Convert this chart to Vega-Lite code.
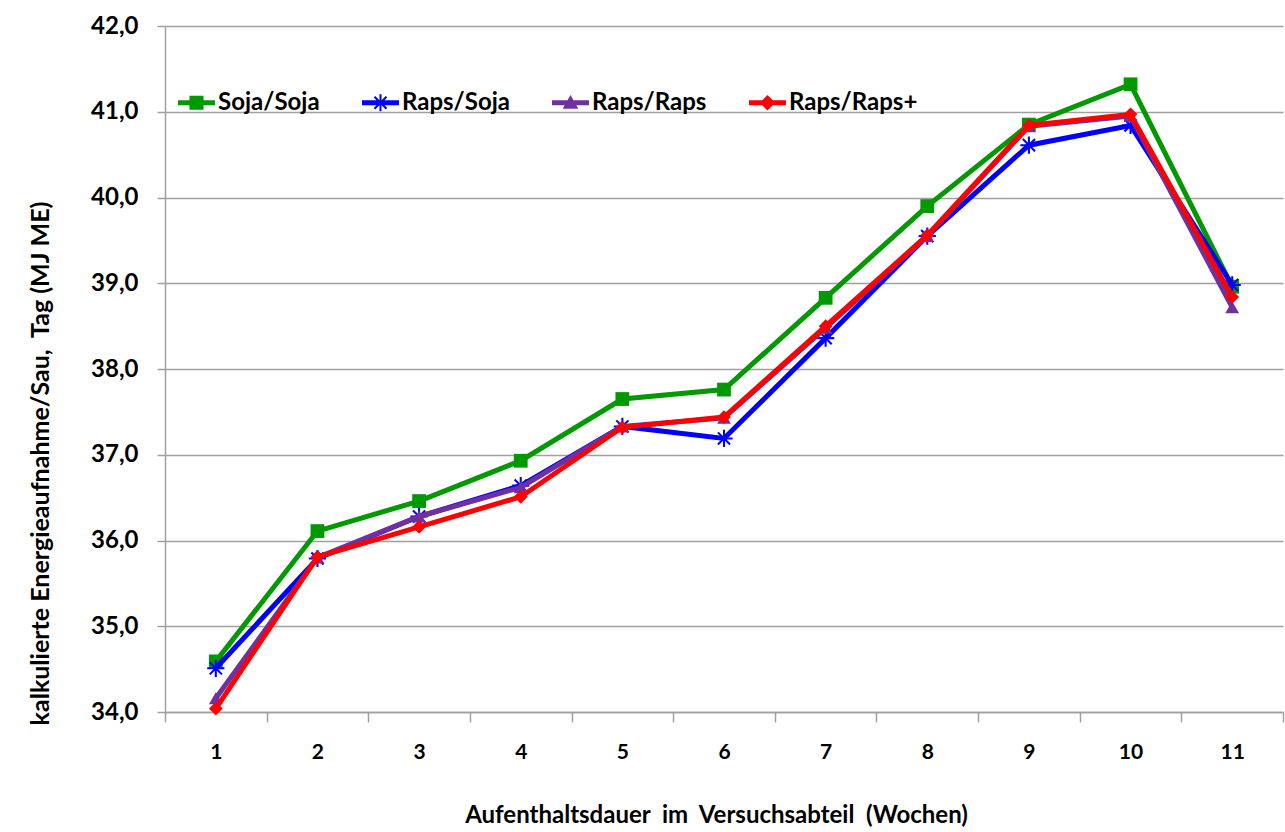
{
  "$schema": "https://vega.github.io/schema/vega-lite/v6.json",
  "width": 1118,
  "height": 686,
  "autosize": {"type": "none"},
  "padding": {"left": 165, "top": 26, "right": 2, "bottom": 120},
  "background": "white",
  "config": {
    "view": {"stroke": null},
    "font": "Lato"
  },
  "data": {
    "values": [
      {"woche": "1", "serie": "Soja/Soja", "wert": 34.59},
      {"woche": "2", "serie": "Soja/Soja", "wert": 36.11},
      {"woche": "3", "serie": "Soja/Soja", "wert": 36.46},
      {"woche": "4", "serie": "Soja/Soja", "wert": 36.93},
      {"woche": "5", "serie": "Soja/Soja", "wert": 37.65},
      {"woche": "6", "serie": "Soja/Soja", "wert": 37.76},
      {"woche": "7", "serie": "Soja/Soja", "wert": 38.83},
      {"woche": "8", "serie": "Soja/Soja", "wert": 39.90},
      {"woche": "9", "serie": "Soja/Soja", "wert": 40.85},
      {"woche": "10", "serie": "Soja/Soja", "wert": 41.32},
      {"woche": "11", "serie": "Soja/Soja", "wert": 38.96},
      {"woche": "1", "serie": "Raps/Soja", "wert": 34.51},
      {"woche": "2", "serie": "Raps/Soja", "wert": 35.79},
      {"woche": "3", "serie": "Raps/Soja", "wert": 36.28},
      {"woche": "4", "serie": "Raps/Soja", "wert": 36.64},
      {"woche": "5", "serie": "Raps/Soja", "wert": 37.33},
      {"woche": "6", "serie": "Raps/Soja", "wert": 37.19},
      {"woche": "7", "serie": "Raps/Soja", "wert": 38.36},
      {"woche": "8", "serie": "Raps/Soja", "wert": 39.55},
      {"woche": "9", "serie": "Raps/Soja", "wert": 40.61},
      {"woche": "10", "serie": "Raps/Soja", "wert": 40.84},
      {"woche": "11", "serie": "Raps/Soja", "wert": 38.98},
      {"woche": "1", "serie": "Raps/Raps", "wert": 34.16},
      {"woche": "2", "serie": "Raps/Raps", "wert": 35.80},
      {"woche": "3", "serie": "Raps/Raps", "wert": 36.28},
      {"woche": "4", "serie": "Raps/Raps", "wert": 36.62},
      {"woche": "5", "serie": "Raps/Raps", "wert": 37.33},
      {"woche": "6", "serie": "Raps/Raps", "wert": 37.43},
      {"woche": "7", "serie": "Raps/Raps", "wert": 38.48},
      {"woche": "8", "serie": "Raps/Raps", "wert": 39.55},
      {"woche": "9", "serie": "Raps/Raps", "wert": 40.83},
      {"woche": "10", "serie": "Raps/Raps", "wert": 40.95},
      {"woche": "11", "serie": "Raps/Raps", "wert": 38.72},
      {"woche": "1", "serie": "Raps/Raps+", "wert": 34.04},
      {"woche": "2", "serie": "Raps/Raps+", "wert": 35.81},
      {"woche": "3", "serie": "Raps/Raps+", "wert": 36.16},
      {"woche": "4", "serie": "Raps/Raps+", "wert": 36.51},
      {"woche": "5", "serie": "Raps/Raps+", "wert": 37.32},
      {"woche": "6", "serie": "Raps/Raps+", "wert": 37.44},
      {"woche": "7", "serie": "Raps/Raps+", "wert": 38.50},
      {"woche": "8", "serie": "Raps/Raps+", "wert": 39.56},
      {"woche": "9", "serie": "Raps/Raps+", "wert": 40.84},
      {"woche": "10", "serie": "Raps/Raps+", "wert": 40.97},
      {"woche": "11", "serie": "Raps/Raps+", "wert": 38.84}
    ]
  },
  "encoding": {
    "x": {
      "field": "woche",
      "type": "ordinal",
      "sort": ["1","2","3","4","5","6","7","8","9","10","11"],
      "scale": {"type": "band", "paddingInner": 0, "paddingOuter": 0},
      "axis": {
        "title": "Aufenthaltsdauer\u00a0 im\u00a0 Versuchsabteil\u00a0 (Wochen)",
        "titleFont": "Lato",
        "titleFontSize": 24,
        "titleFontWeight": "bold",
        "titleColor": "black",
        "titleX": 551,
        "titleY": 110,
        "titleBaseline": "alphabetic",
        "labelFont": "Lato",
        "labelFontSize": 21,
        "labelFontWeight": "bold",
        "labelColor": "black",
        "labelAngle": 0,
        "labelBaseline": "alphabetic",
        "labelPadding": 36,
        "tickBand": "extent",
        "tickSize": 10,
        "tickColor": "#a0a0a0",
        "tickWidth": 1.5,
        "domainColor": "#a0a0a0",
        "domainWidth": 1.5,
        "grid": false
      }
    },
    "y": {
      "field": "wert",
      "type": "quantitative",
      "scale": {"domain": [34, 42], "nice": false, "zero": false},
      "axis": {
        "title": "kalkulierte Energieaufnahme/Sau,\u00a0 Tag (MJ ME)",
        "titleFont": "Lato",
        "titleFontSize": 25,
        "titleFontWeight": "bold",
        "titleColor": "black",
        "titleX": -125,
        "titleY": 437,
        "titleBaseline": "middle",
        "titleAlign": "center",
        "values": [34, 35, 36, 37, 38, 39, 40, 41, 42],
        "labelExpr": "replace(format(datum.value, '.1f'), '.', ',')",
        "labelFont": "Lato",
        "labelFontSize": 24,
        "labelFontWeight": "bold",
        "labelColor": "black",
        "labelPadding": 19,
        "tickSize": 8,
        "tickColor": "#a0a0a0",
        "tickWidth": 1.5,
        "domainColor": "#a0a0a0",
        "domainWidth": 1.5,
        "grid": true,
        "gridColor": "#a0a0a0",
        "gridWidth": 1.5
      }
    },
    "color": {
      "field": "serie",
      "type": "nominal",
      "sort": ["Soja/Soja", "Raps/Soja", "Raps/Raps", "Raps/Raps+"],
      "scale": {
        "domain": ["Soja/Soja", "Raps/Soja", "Raps/Raps", "Raps/Raps+"],
        "range": ["#009900", "#0000ff", "#7030a0", "#ff0000"]
      },
      "legend": {
        "title": null,
        "orient": "none",
        "legendX": 13,
        "legendY": 58,
        "direction": "horizontal",
        "labelFont": "Lato",
        "labelFontSize": 24,
        "labelFontWeight": "bold",
        "labelColor": "black",
        "columnPadding": 42,
        "symbolSize": 1369,
        "labelOffset": 3,
        "symbolStrokeWidth": 0,
        "encode": {
          "symbols": {
            "update": {
              "shape": {"signal": "datum.value === 'Soja/Soja' ? 'M-1,-0.135L1,-0.135L1,0.135L-1,0.135Z M-0.38,-0.38L0.38,-0.38L0.38,0.38L-0.38,0.38Z' : datum.value === 'Raps/Soja' ? 'M-1,-0.135L1,-0.135L1,0.135L-1,0.135Z M-0.055,-0.46L0.055,-0.46L0.055,0.46L-0.055,0.46Z M-0.286,-0.364L0.364,0.286L0.286,0.364L-0.364,-0.286Z M-0.364,0.286L0.286,-0.364L0.364,-0.286L-0.286,0.364Z' : datum.value === 'Raps/Raps' ? 'M-1,-0.135L1,-0.135L1,0.135L-1,0.135Z M0,-0.42L0.42,0.32L-0.42,0.32Z' : 'M-1,-0.135L1,-0.135L1,0.135L-1,0.135Z M0,-0.42L0.42,0L0,0.42L-0.42,0Z'"},
              "fill": {"scale": "color", "field": "value"},
              "strokeWidth": {"value": 0},
              "opacity": {"value": 1}
            }
          }
        }
      }
    }
  },
  "layer": [
    {
      "transform": [{"filter": "datum.serie === 'Soja/Soja'"}],
      "layer": [
        {"mark": {"type": "line", "strokeWidth": 5}},
        {"mark": {"type": "point", "filled": true, "opacity": 1, "strokeWidth": 0, "shape": "square", "size": 190}}
      ]
    },
    {
      "transform": [{"filter": "datum.serie === 'Raps/Soja'"}],
      "layer": [
        {"mark": {"type": "line", "strokeWidth": 5}},
        {"mark": {"type": "point", "filled": true, "opacity": 1, "strokeWidth": 0, "size": 190, "shape": "M-1.25,-0.15L1.25,-0.15L1.25,0.15L-1.25,0.15Z M-0.15,-1.25L0.15,-1.25L0.15,1.25L-0.15,1.25Z M-0.778,-0.99L0.99,0.778L0.778,0.99L-0.99,-0.778Z M-0.99,0.778L0.778,-0.99L0.99,-0.778L-0.778,0.99Z"}}
      ]
    },
    {
      "transform": [{"filter": "datum.serie === 'Raps/Raps'"}],
      "layer": [
        {"mark": {"type": "line", "strokeWidth": 5}},
        {"mark": {"type": "point", "filled": true, "opacity": 1, "strokeWidth": 0, "shape": "triangle-up", "size": 190}}
      ]
    },
    {
      "transform": [{"filter": "datum.serie === 'Raps/Raps+'"}],
      "layer": [
        {"mark": {"type": "line", "strokeWidth": 5}},
        {"mark": {"type": "point", "filled": true, "opacity": 1, "strokeWidth": 0, "shape": "diamond", "size": 190}}
      ]
    }
  ]
}
